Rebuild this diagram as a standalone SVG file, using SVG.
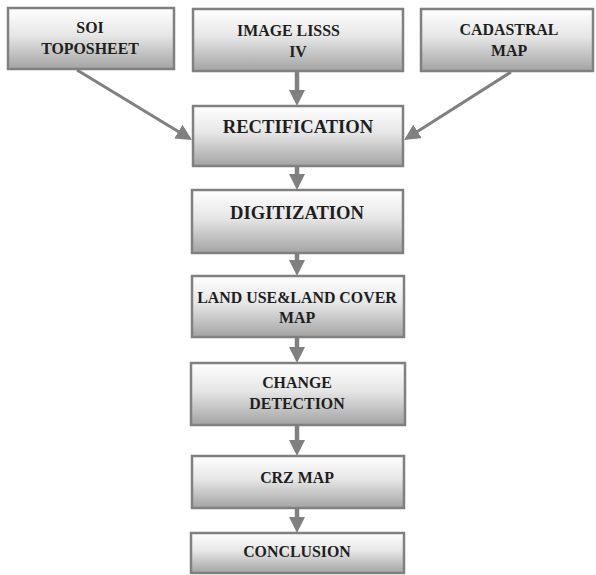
<svg xmlns="http://www.w3.org/2000/svg" width="596" height="575" viewBox="0 0 596 575">
<defs>
<linearGradient id="g" x1="0" y1="0" x2="0" y2="1">
<stop offset="0" stop-color="#ffffff"/>
<stop offset="0.45" stop-color="#e6e6e6"/>
<stop offset="1" stop-color="#a3a3a3"/>
</linearGradient>
<marker id="ah" viewBox="0 0 16 16" markerWidth="16" markerHeight="16" refX="8" refY="8" orient="auto" markerUnits="userSpaceOnUse">
<path d="M0,0 L16,8 L0,16 z" fill="#808080"/>
</marker>
</defs>
<style>
.box{fill:url(#g);stroke:#808080;stroke-width:2.5}
.t{font-weight:bold;fill:#1e1e1e;font-size:15.9px;text-anchor:middle}
.big{font-size:18.6px}
.c{stroke:#808080;fill:none;marker-end:url(#ah)}
.v{stroke-width:4.5}
.d{stroke-width:3}
</style>
<rect width="596" height="575" fill="#ffffff"/>
<g font-family="'Liberation Serif', 'DejaVu Serif', serif">
<g id="soi"><rect class="box" x="8" y="8" width="166" height="61"/><text class="t" x="90" y="33">SOI</text><text class="t" x="90" y="54">TOPOSHEET</text></g>
<g id="image"><rect class="box" x="193" y="9" width="210" height="62"/><text class="t" x="237" y="36" style="text-anchor:start">IMAGE LISSS</text><text class="t" x="298" y="57">IV</text></g>
<g id="cadastral"><rect class="box" x="421" y="9" width="172" height="62"/><text class="t" x="509" y="35">CADASTRAL</text><text class="t" x="509" y="56">MAP</text></g>
<g id="rectification"><rect class="box" x="193" y="106" width="210" height="60"/><text class="t big" x="298" y="133">RECTIFICATION</text></g>
<g id="digitization"><rect class="box" x="192" y="190" width="211" height="63"/><text class="t big" x="297" y="219">DIGITIZATION</text></g>
<g id="landuse"><rect class="box" x="192" y="276" width="212" height="61"/><text class="t" x="297" y="303">LAND USE&amp;LAND COVER</text><text class="t" x="297" y="323">MAP</text></g>
<g id="change"><rect class="box" x="191" y="363" width="214" height="62"/><text class="t" x="297" y="388">CHANGE</text><text class="t" x="297" y="409">DETECTION</text></g>
<g id="crz"><rect class="box" x="192" y="456" width="212" height="52"/><text class="t" x="297" y="483">CRZ MAP</text></g>
<g id="conclusion"><rect class="box" x="191" y="533" width="213" height="40"/><text class="t" x="297" y="557">CONCLUSION</text></g>
</g>
<g id="connectors">
<line class="c v" x1="297" y1="72" x2="297" y2="98"/>
<line class="c v" x1="297" y1="167" x2="297" y2="182"/>
<line class="c v" x1="297" y1="254" x2="297" y2="268"/>
<line class="c v" x1="297" y1="338" x2="297" y2="355"/>
<line class="c v" x1="297" y1="426" x2="297" y2="448"/>
<line class="c v" x1="297" y1="509" x2="297" y2="525"/>
<line class="c d" x1="77" y1="70" x2="185.2" y2="135.8"/>
<line class="c d" x1="511" y1="72" x2="410.8" y2="135.7"/>
</g>
</svg>
